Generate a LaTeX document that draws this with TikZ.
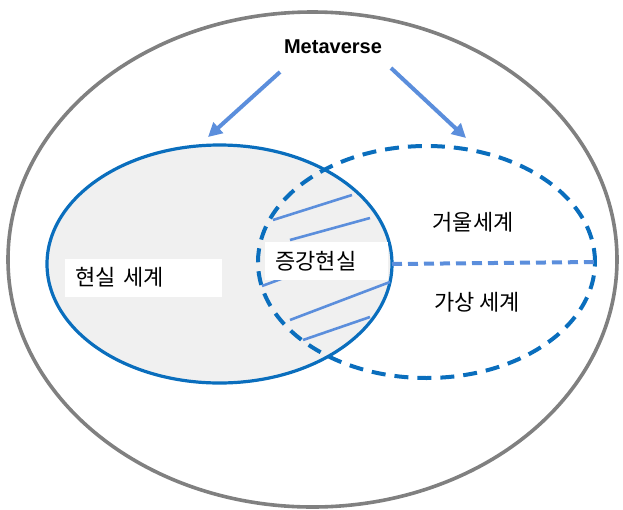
\documentclass[tikz,border=0pt]{standalone}
\usepackage{fontspec}
\newfontfamily\kor{Noto Sans CJK KR}
\newfontfamily\lat{Liberation Sans}
\usetikzlibrary{shapes.geometric, arrows.meta}
\definecolor{ring-gray}{HTML}{808080}
\definecolor{deep-blue}{HTML}{0A6EBD}
\definecolor{soft-blue}{HTML}{5B8EDC}
\definecolor{shade}{HTML}{F0F0F0}

\begin{document}
\begin{tikzpicture}[x=0.5pt, y=-0.5pt,
        every node/.style={font=\kor\fontsize{11}{13}\selectfont},
        world/.style={ellipse, inner sep=0pt, outer sep=0pt, line width=1.6pt},
        tag/.style={fill=white, inner xsep=5pt, inner ysep=0pt, align=left,
                    minimum height=19pt, anchor=west},
        link/.style={soft-blue, line width=2pt, -{Triangle[length=7pt, width=7pt]}}]
      \useasboundingbox (0,0) rectangle (623,510);
      \node[world, draw=ring-gray, line width=1.8pt, minimum width=304.5pt, minimum height=247.5pt] (outer) at (312.5,259.5) {};
      \node[world, draw=deep-blue, fill=shade, minimum width=172.5pt, minimum height=119pt] (real) at (219.5,264) {};
      \node[world, draw=deep-blue, line width=2pt, dash pattern=on 7pt off 4.5pt, minimum width=168.5pt, minimum height=116pt] (virtual) at (426.5,262) {};
      % hatching in the overlap
      \foreach \ax/\ay/\bx/\by in {273/220/352/195, 290/240/370/218, 262/286/300/272,
                                   290/320/390/282, 303/340/370/317}
        \draw[soft-blue, line width=1.3pt] (\ax,\ay) -- (\bx,\by);
      \draw[soft-blue, line width=2pt, dash pattern=on 5pt off 3pt] (real.east) -- (virtual.east);
      \node[tag, text width=68.5pt] (realLbl) at (65,277.5) {현실 세계};
      \node[tag, text width=51.5pt] (arLbl) at (265,261) {증강현실};
      \node (mirrorLbl) at (473,222) {거울세계};
      \node (virtLbl) at (477,302) {가상 세계};
      \node[font=\lat\bfseries\fontsize{10}{12}\selectfont] (meta) at (333,47) {Metaverse};
      \coordinate (lTail) at (280,72);
      \coordinate (lHead) at (208,137);
      \coordinate (rTail) at (391,68);
      \coordinate (rHead) at (466,138);
      \draw[link] (lTail) -- (lHead);
      \draw[link] (rTail) -- (rHead);
    \end{tikzpicture}
\end{document}
